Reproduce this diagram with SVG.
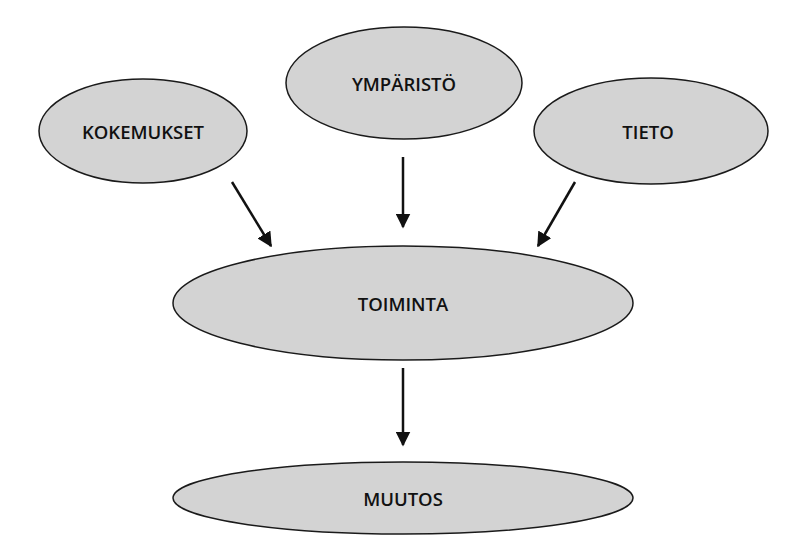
<svg xmlns="http://www.w3.org/2000/svg" width="804" height="560" viewBox="0 0 804 560">
<style>
.n ellipse{fill:#d3d3d3;stroke:#1a1a1a;stroke-width:1.5}
.n text{font-family:"Open Sans","Liberation Sans",sans-serif;font-size:18.5px;font-weight:600;fill:#111;text-anchor:middle;dominant-baseline:central}
.c line{stroke:#111;stroke-width:2.5;marker-end:url(#a)}
</style>
<defs><marker id="a" viewBox="0 0 10 10" refX="9" refY="5" markerWidth="6" markerHeight="6" orient="auto" markerUnits="strokeWidth"><path d="M0,0L10,5L0,10z" fill="#111"/></marker></defs>
<rect width="804" height="560" fill="#fff"/>
<g id="kokemukset" class="n"><ellipse cx="143" cy="131" rx="104" ry="52"/><text x="143" y="131">KOKEMUKSET</text></g>
<g id="ymparisto" class="n"><ellipse cx="404" cy="83" rx="118" ry="56"/><text x="404" y="83">YMPÄRISTÖ</text></g>
<g id="tieto" class="n"><ellipse cx="651" cy="131" rx="117" ry="53"/><text x="648" y="131">TIETO</text></g>
<g id="toiminta" class="n"><ellipse cx="403" cy="303" rx="230" ry="57"/><text x="403" y="303">TOIMINTA</text></g>
<g id="muutos" class="n"><ellipse cx="403" cy="498" rx="230" ry="36"/><text x="403" y="498">MUUTOS</text></g>
<g id="connectors" class="c">
<line x1="232" y1="182" x2="271" y2="246"/>
<line x1="403" y1="157" x2="403" y2="227"/>
<line x1="575" y1="182" x2="538" y2="246"/>
<line x1="403" y1="368" x2="403" y2="445"/>
</g>
</svg>
